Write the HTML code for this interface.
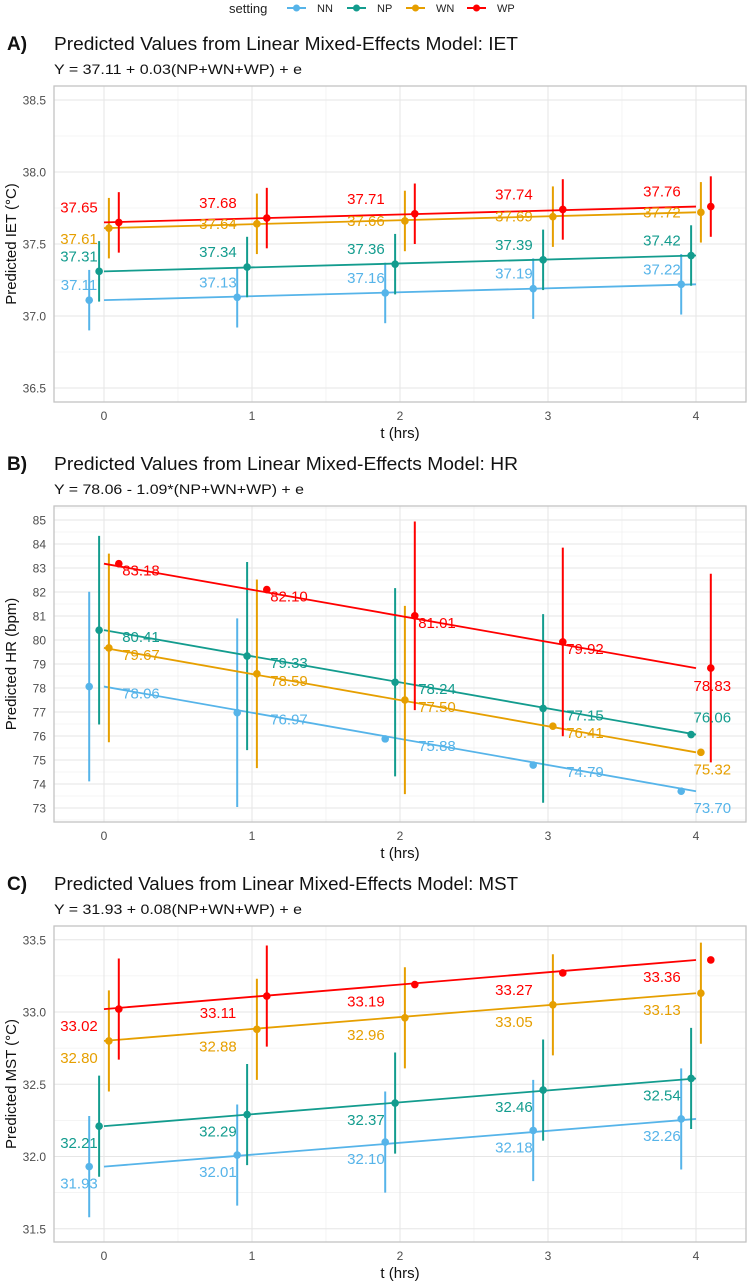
<!DOCTYPE html>
<html><head><meta charset="utf-8"><style>
html,body{margin:0;padding:0;background:#fff;}
svg{display:block;font-family:"Liberation Sans",Arial,sans-serif;}
</style></head><body>
<svg id="chart" width="749" height="1285" viewBox="0 0 749 1285"></svg>
<script>
// ---------- data ----------
const hours = [0, 1, 2, 3, 4];
const settings = ["NN", "NP", "WN", "WP"];

// Panel A: IET
const ietNN = [37.11, 37.13, 37.16, 37.19, 37.22];
const ietNP = [37.31, 37.34, 37.36, 37.39, 37.42];
const ietWN = [37.61, 37.64, 37.66, 37.69, 37.72];
const ietWP = [37.65, 37.68, 37.71, 37.74, 37.76];
const ietErrNN = [0.21, 0.21, 0.21, 0.21, 0.21];
const ietErrNP = [0.21, 0.21, 0.21, 0.21, 0.21];
const ietErrWN = [0.21, 0.21, 0.21, 0.21, 0.21];
const ietErrWP = [0.21, 0.21, 0.21, 0.21, 0.21];
const ietTicks = [36.5, 37.0, 37.5, 38.0, 38.5];
const ietTickLabels = ["36.5", "37.0", "37.5", "38.0", "38.5"];

// Panel B: HR
const hrNN = [78.06, 76.97, 75.88, 74.79, 73.70];
const hrNP = [80.41, 79.33, 78.24, 77.15, 76.06];
const hrWN = [79.67, 78.59, 77.50, 76.41, 75.32];
const hrWP = [83.18, 82.10, 81.01, 79.92, 78.83];
const hrErrNN = [3.95, 3.93, null, null, null];
const hrErrNP = [3.93, 3.92, 3.92, 3.93, null];
const hrErrWN = [3.93, 3.93, 3.92, null, null];
const hrErrWP = [null, null, 3.93, 3.93, 3.93];
const hrTicks = [73, 74, 75, 76, 77, 78, 79, 80, 81, 82, 83, 84, 85];
const hrTickLabels = ["73", "74", "75", "76", "77", "78", "79", "80", "81", "82", "83", "84", "85"];

// Panel C: MST
const mstNN = [31.93, 32.01, 32.10, 32.18, 32.26];
const mstNP = [32.21, 32.29, 32.37, 32.46, 32.54];
const mstWN = [32.80, 32.88, 32.96, 33.05, 33.13];
const mstWP = [33.02, 33.11, 33.19, 33.27, 33.36];
const mstErrNN = [0.35, 0.35, 0.35, 0.35, 0.35];
const mstErrNP = [0.35, 0.35, 0.35, 0.35, 0.35];
const mstErrWN = [0.35, 0.35, 0.35, 0.35, 0.35];
const mstErrWP = [0.35, 0.35, null, null, null];
const mstTicks = [31.5, 32.0, 32.5, 33.0, 33.5];
const mstTickLabels = ["31.5", "32.0", "32.5", "33.0", "33.5"];

const xTickLabels = ["0", "1", "2", "3", "4"];

// ---------- style / layout ----------
const colors = {NN: "#56B4E9", NP: "#139C8E", WN: "#E69F00", WP: "#FF0000"};
const dodge = {NN: -0.1, NP: -0.033, WN: 0.033, WP: 0.1};
const NS = "http://www.w3.org/2000/svg";
const svg = document.getElementById("chart");

function el(tag, attrs, parent, text) {
  const e = document.createElementNS(NS, tag);
  for (const k in attrs) e.setAttribute(k, attrs[k]);
  if (text !== undefined) e.textContent = text;
  (parent || svg).appendChild(e);
  return e;
}

// legend
const leg = el("g", {});


const legTitle = el("text", {x: 229, y: 13, "font-size": 13, fill: "#222"}, leg, "setting");


const legKeyX = [287, 347, 406, 467];
settings.forEach((s, i) => {
  const g = el("g", {}, leg);
  
  
  el("line", {x1: legKeyX[i], x2: legKeyX[i] + 19, y1: 8, y2: 8, stroke: colors[s], "stroke-width": 2}, g);
  el("circle", {cx: legKeyX[i] + 9.5, cy: 8, r: 3.5, fill: colors[s]}, g);
  el("text", {x: legKeyX[i] + 30, y: 12, "font-size": 11, fill: "#222"}, g, s);
});

function panel(cfg) {
  const g = el("g", {});
  
  
  const L = 54, R = 746, T = cfg.top, B = cfg.top + 316;
  const x0 = 104, pxPerHr = 148;
  const sx = t => x0 + t * pxPerHr;
  const sy = v => cfg.y0px + (cfg.y0 - v) * cfg.pxPerUnit;

  const lab = el("text", {x: 7, y: cfg.top - 36, "font-size": 19, "font-weight": "bold", fill: "#111"}, g, cfg.letter);
  
  
  const tt = el("text", {x: 54, y: cfg.top - 36, "font-size": 18, fill: "#111", textLength: 464, lengthAdjust: "spacingAndGlyphs"}, g, cfg.title);
  
  
  const st = el("text", {x: 54, y: cfg.top - 12, "font-size": 14, fill: "#111", textLength: cfg.subLen, lengthAdjust: "spacingAndGlyphs"}, g, cfg.subtitle);
  
  

  const grid = el("g", {}, g);
  
  
  el("rect", {x: L, y: T, width: R - L, height: B - T, fill: "#fff"}, grid);
  for (let i = 0; i < cfg.ticks.length - 1; i++) {
    const m = (cfg.ticks[i] + cfg.ticks[i + 1]) / 2;
    el("line", {x1: L, x2: R, y1: sy(m), y2: sy(m), stroke: "#f1f1f1", "stroke-width": 0.8}, grid);
  }
  [cfg.ticks[0] - (cfg.ticks[1] - cfg.ticks[0]) / 2, cfg.ticks[cfg.ticks.length - 1] + (cfg.ticks[1] - cfg.ticks[0]) / 2].forEach(m => {
    const y = sy(m);
    if (y > T && y < B) el("line", {x1: L, x2: R, y1: y, y2: y, stroke: "#f1f1f1", "stroke-width": 0.8}, grid);
  });
  [0.5, 1.5, 2.5, 3.5].forEach(m => el("line", {x1: sx(m), x2: sx(m), y1: T, y2: B, stroke: "#f1f1f1", "stroke-width": 0.8}, grid));
  cfg.ticks.forEach(v => el("line", {x1: L, x2: R, y1: sy(v), y2: sy(v), stroke: "#e6e6e6", "stroke-width": 1.1}, grid));
  hours.forEach(t => el("line", {x1: sx(t), x2: sx(t), y1: T, y2: B, stroke: "#e6e6e6", "stroke-width": 1.1}, grid));

  const yAxis = el("g", {}, g);
  
  
  cfg.ticks.forEach((v, i) => {
    el("text", {x: 46, y: sy(v) + 4.5, "font-size": 12, fill: "#4d4d4d", "text-anchor": "end"}, yAxis, cfg.tickLabels[i]);
  });
  const yt = el("text", {x: 0, y: 0, "font-size": 15, fill: "#111", "text-anchor": "middle", transform: `translate(16,${(T + B) / 2}) rotate(-90)`}, g, cfg.ytitle);
  
  
  const xAxis = el("g", {}, g);
  
  
  hours.forEach((t, i) => el("text", {x: sx(t), y: B + 18, "font-size": 12, fill: "#4d4d4d", "text-anchor": "middle"}, xAxis, xTickLabels[i]));
  const xt = el("text", {x: (L + R) / 2, y: B + 36, "font-size": 15, fill: "#111", "text-anchor": "middle"}, g, "t (hrs)");
  
  

  settings.forEach(s => {
    const vals = cfg.series[s], errs = cfg.errs[s], col = colors[s];
    const sg = el("g", {}, g);
    
    
    const n = vals.length;
    const ln = el("line", {x1: sx(hours[0]), y1: sy(vals[0]), x2: sx(hours[n - 1]), y2: sy(vals[n - 1]), stroke: col, "stroke-width": 1.8}, sg);
    
    
    vals.forEach((v, i) => {
      const xp = sx(hours[i] + dodge[s]);
      if (errs[i] != null) {
        const eb = el("line", {x1: xp, x2: xp, y1: sy(v - errs[i]), y2: sy(v + errs[i]), stroke: col, "stroke-width": 2}, sg);
        
        
      }
      const pt = el("circle", {cx: xp, cy: sy(v), r: 3.8, fill: col}, sg);
      
      
    });
  });
  settings.forEach(s => {
    const vals = cfg.series[s], col = colors[s];
    vals.forEach((v, i) => {
      const o = cfg.labelPos(s, i);
      let cx = sx(hours[i] + o.dx);
      if (cx < L + 25) cx = L + 25;
      const tx = el("text", {x: cx, y: sy(v) + o.dy + 5, "font-size": 15, fill: col, "text-anchor": "middle"}, g, v.toFixed(2));
      
      
    });
  });
  el("rect", {x: L, y: T, width: R - L, height: B - T, fill: "none", stroke: "#c4c4c4", "stroke-width": 1.3}, g);
}

panel({
  name: "panel-a-iet", letter: "A)", top: 86,
  title: "Predicted Values from Linear Mixed-Effects Model: IET",
  subtitle: "Y = 37.11 + 0.03(NP+WN+WP) + e", subLen: 248,
  ytitle: "Predicted IET (°C)",
  y0: 38.0, y0px: 172, pxPerUnit: 144,
  ticks: ietTicks, tickLabels: ietTickLabels,
  series: {NN: ietNN, NP: ietNP, WN: ietWN, WP: ietWP},
  errs: {NN: ietErrNN, NP: ietErrNP, WN: ietErrWN, WP: ietErrWP},
  labelPos: (s, i) => ({dx: -0.23, dy: s === "WN" ? (i === 0 ? 11 : 0) : -15})
});

const hrT4 = {NN: 17, NP: -17, WN: 17, WP: 18};
panel({
  name: "panel-b-hr", letter: "B)", top: 506,
  title: "Predicted Values from Linear Mixed-Effects Model: HR",
  subtitle: "Y = 78.06 - 1.09*(NP+WN+WP) + e", subLen: 250,
  ytitle: "Predicted HR (bpm)",
  y0: 85, y0px: 520, pxPerUnit: 24,
  ticks: hrTicks, tickLabels: hrTickLabels,
  series: {NN: hrNN, NP: hrNP, WN: hrWN, WP: hrWP},
  errs: {NN: hrErrNN, NP: hrErrNP, WN: hrErrWN, WP: hrErrWP},
  labelPos: (s, i) => i === 4 ? {dx: 0.11, dy: hrT4[s]} : {dx: 0.25, dy: 7}
});

panel({
  name: "panel-c-mst", letter: "C)", top: 926,
  title: "Predicted Values from Linear Mixed-Effects Model: MST",
  subtitle: "Y = 31.93 + 0.08(NP+WN+WP) + e", subLen: 248,
  ytitle: "Predicted MST (°C)",
  y0: 33.0, y0px: 1012, pxPerUnit: 144.5,
  ticks: mstTicks, tickLabels: mstTickLabels,
  series: {NN: mstNN, NP: mstNP, WN: mstWN, WP: mstWP},
  errs: {NN: mstErrNN, NP: mstErrNP, WN: mstErrWN, WP: mstErrWP},
  labelPos: (s, i) => ({dx: -0.23, dy: 17})
});
</script>
</body></html>
